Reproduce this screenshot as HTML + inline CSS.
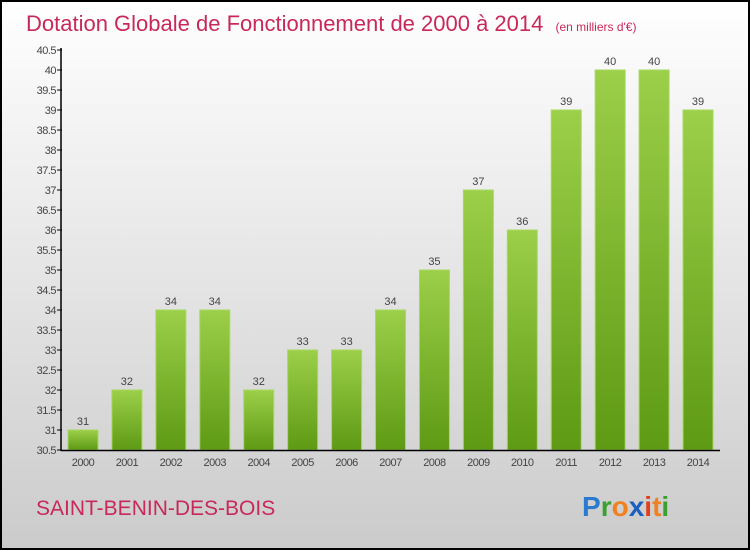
<!DOCTYPE html>
<html><head><meta charset="utf-8"><style>
body{margin:0;width:750px;height:550px;overflow:hidden}
svg{display:block}
text{font-family:"Liberation Sans",sans-serif}
</style></head><body>
<svg width="750" height="550" id="c">
<defs>
<linearGradient id="bg" x1="0" y1="0" x2="0" y2="1"><stop offset="0" stop-color="#ffffff"/><stop offset="1" stop-color="#cbcbcb"/></linearGradient>
<linearGradient id="bar" x1="0" y1="0" x2="0" y2="1"><stop offset="0" stop-color="#9ccf4a"/><stop offset="1" stop-color="#5e9a14"/></linearGradient>
</defs>
<rect x="1" y="1" width="748" height="548" fill="url(#bg)" stroke="#000" stroke-width="2"/>
<text x="26" y="31" font-size="22" fill="#c8285a">Dotation Globale de Fonctionnement de 2000 à 2014 <tspan font-size="12" dx="6">(en milliers d'€)</tspan></text>
<text x="36" y="515" font-size="21" fill="#c8285a">SAINT-BENIN-DES-BOIS</text>
<text x="582" y="516" font-size="28" font-weight="bold"><tspan fill="#2a7bd0">P</tspan><tspan fill="#3aa030">r</tspan><tspan fill="#f08020">o</tspan><tspan fill="#1a60c0">x</tspan><tspan fill="#e04020">i</tspan><tspan fill="#f08020">t</tspan><tspan fill="#3aa030">i</tspan></text>
<g id="plot"></g>
</svg>
<script>
const categories=["2000","2001","2002","2003","2004","2005","2006","2007","2008","2009","2010","2011","2012","2013","2014"];
const values=[31,32,34,34,32,33,33,34,35,37,36,39,40,40,39];
const yTicks=[30.5,31,31.5,32,32.5,33,33.5,34,34.5,35,35.5,36,36.5,37,37.5,38,38.5,39,39.5,40,40.5];
const ns="http://www.w3.org/2000/svg";
const g=document.getElementById('plot');
const y=v=>450-(v-30.5)*40;
const x=i=>83+i*43.93;
function el(t,a){const e=document.createElementNS(ns,t);for(const k in a)e.setAttribute(k,a[k]);g.appendChild(e);return e;}
yTicks.forEach(t=>{
  const l=el('line',{x1:57,x2:62,y1:y(t),y2:y(t),stroke:'#000'});
  
  
  const tx=el('text',{x:56,y:y(t)+4,'text-anchor':'end','font-size':11,fill:'#444','letter-spacing':'-0.5'});
  tx.textContent=t;
  
  
});
values.forEach((v,i)=>{
  const r=el('rect',{x:x(i)-15,y:y(v),width:30,height:450-y(v),fill:'url(#bar)',stroke:'#a8d860','stroke-width':1});
  
  
  const vl=el('text',{x:x(i),y:y(v)-5,'text-anchor':'middle','font-size':11,fill:'#444'});
  vl.textContent=v;
  
  
  const cl=el('text',{x:x(i),y:466,'text-anchor':'middle','font-size':11,fill:'#444','letter-spacing':'-0.5'});
  cl.textContent=categories[i];
  
  
});
const ya=el('line',{x1:61,x2:61,y1:48,y2:451,stroke:'#000','stroke-width':1.5});


const xa=el('line',{x1:61,x2:720,y1:450.5,y2:450.5,stroke:'#000','stroke-width':1.5});


</script>
</body></html>
